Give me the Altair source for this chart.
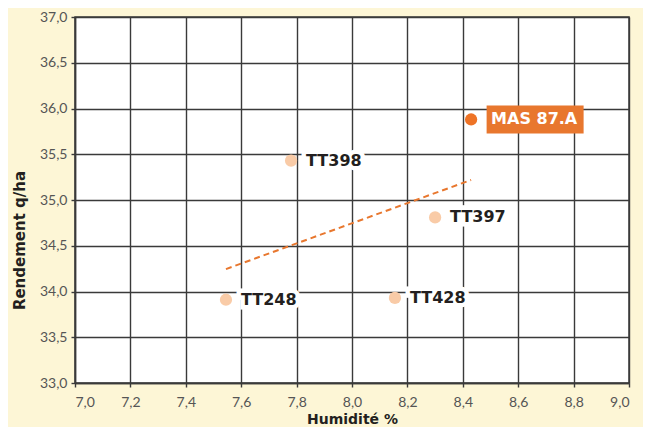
import altair as alt
import pandas as pd

varieties = ["MAS 87.A", "TT398", "TT397", "TT248", "TT428"]
humidite = [8.43, 7.78, 8.30, 7.545, 8.155]
rendement = [35.88, 35.43, 34.81, 33.91, 33.93]
x_ticks = [7.0, 7.2, 7.4, 7.6, 7.8, 8.0, 8.2, 8.4, 8.6, 8.8, 9.0]
y_ticks = [33.0, 33.5, 34.0, 34.5, 35.0, 35.5, 36.0, 36.5, 37.0]
highlight = "MAS 87.A"

df = pd.DataFrame({"Variété": varieties, "Humidité": humidite, "Rendement": rendement})
df["hl"] = df["Variété"] == highlight

lab_expr = "replace(format(datum.value, '.1f'), '.', ',')"
grid_col = "#3a3a3a"

x = alt.X("Humidité:Q", scale=alt.Scale(domain=[7, 9], nice=False, zero=False),
          axis=alt.Axis(values=x_ticks, labelExpr=lab_expr, title="Humidité %",
                        titleY=36, titleBaseline="middle"))
y = alt.Y("Rendement:Q", scale=alt.Scale(domain=[33, 37], nice=False, zero=False),
          axis=alt.Axis(values=y_ticks, labelExpr=lab_expr, title="Rendement q/ha",
                        titleX=-56, titleY=223, titleBaseline="middle", titleFontSize=15))

base = alt.Chart(df)

trend = base.transform_regression("Humidité", "Rendement").mark_line(
    color="#E8772E", strokeDash=[6, 4], strokeWidth=2
).encode(x=x, y=y)

points_tt = base.transform_filter("!datum.hl").mark_point(
    filled=True, size=150, color="#F9CBA7", opacity=1
).encode(x=x, y=y)

points_hl = base.transform_filter("datum.hl").mark_point(
    filled=True, size=150, color="#EE7326", opacity=1
).encode(x=x, y=y)

halo = base.transform_filter("!datum.hl").mark_text(
    align="left", baseline="middle", dx=15, font="DejaVu Sans", fontWeight="bold",
    fontSize=16, stroke="white", strokeWidth=9, strokeJoin="miter", color="white"
).encode(x=x, y=y, text="Variété:N")

labels_tt = base.transform_filter("!datum.hl").mark_text(
    align="left", baseline="middle", dx=15, font="DejaVu Sans", fontWeight="bold",
    fontSize=16, color="#231f20"
).encode(x=x, y=y, text="Variété:N")

box_hl = base.transform_filter("datum.hl").mark_point(
    shape="M-1,-0.29L1,-0.29L1,0.29L-1,0.29Z", size=9409, filled=True,
    color="#E8772E", opacity=1, xOffset=64
).encode(x=x, y=y)

label_hl = base.transform_filter("datum.hl").mark_text(
    align="left", baseline="middle", dx=20, font="DejaVu Sans", fontWeight="bold",
    fontSize=16, color="white"
).encode(x=x, y=y, text="Variété:N")

chart = alt.layer(trend, points_tt, points_hl, halo, labels_tt, box_hl, label_hl).properties(
    width=554, height=366,
    padding={"left": 67, "top": 9, "right": 14, "bottom": 44},
    autosize=alt.AutoSizeParams(type="none"),
    background="#FDF6D6",
).configure_view(
    fill="white", stroke=grid_col, strokeWidth=1.5
).configure_axis(
    grid=True, gridColor=grid_col, gridWidth=1.4, gridOpacity=1,
    domainColor=grid_col, domainWidth=1.5, tickColor=grid_col, tickWidth=1.4, tickSize=4,
    labelFont="Lato", labelFontSize=14, labelColor="#555555", labelPadding=4,
    titleFont="DejaVu Sans", titleFontWeight="bold", titleFontSize=14, titleColor="#231f20",
).configure_axisX(labelPadding=8)

chart.save("out.html", embed_options={"renderer": "svg", "actions": False})
